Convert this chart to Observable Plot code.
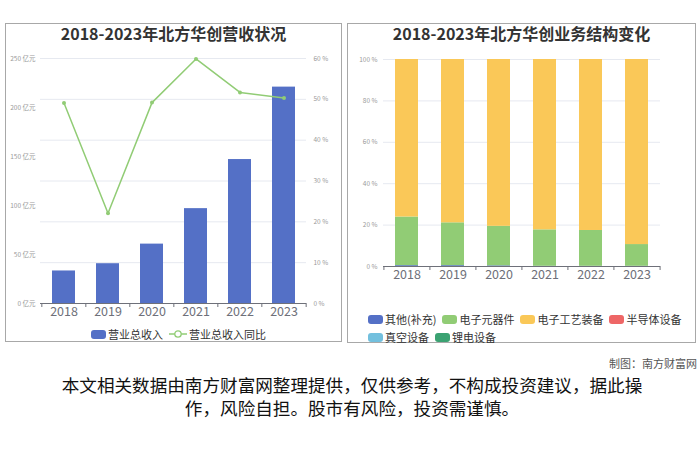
<!DOCTYPE html>
<html><head><meta charset="utf-8">
<script src="https://cdn.jsdelivr.net/npm/d3@7"></script>
<script src="https://cdn.jsdelivr.net/npm/@observablehq/plot@0.6"></script>
<style>
body{margin:0;background:#fff;font-family:"Noto Sans CJK SC","Noto Sans",sans-serif;}
#page{position:relative;width:700px;height:467px;overflow:hidden;background:#fff;}
.box{position:absolute;border:1px solid #a8a8a8;box-sizing:border-box;}
.abs{position:absolute;}
.title{position:absolute;text-align:center;font-weight:bold;font-size:16px;line-height:20px;color:#333;white-space:nowrap;}
.legend{position:absolute;display:flex;flex-wrap:wrap;align-items:center;font-size:11px;color:#333;row-gap:4px;column-gap:6px;}
.item{display:flex;align-items:center;gap:2px;height:14px;white-space:nowrap;}
.sw{width:15px;height:9px;border-radius:3px;display:inline-block;}
</style></head>
<body><div id="page">
<div class="box" style="left:5px;top:23px;width:337px;height:319px;"></div>
<div class="box" style="left:347px;top:23px;width:349px;height:320px;"></div>
<div id="left" class="abs" style="left:5px;top:23px;"></div>
<div id="right" class="abs" style="left:347px;top:23px;"></div>
<div class="title" style="left:5px;width:337px;top:23px;">2018-2023年北方华创营收状况</div>
<div class="title" style="left:347px;width:349px;top:23px;">2018-2023年北方华创业务结构变化</div>
<div id="legL" class="legend" style="left:91px;top:327px;"></div>
<div id="legR" class="legend" style="left:368px;top:312px;width:320px;"></div>
<div class="abs" style="right:3px;top:355px;font-size:11px;color:#555;">制图：南方财富网</div>
<div class="abs" style="left:0;width:704px;top:373px;text-align:center;font-size:17.6px;line-height:23px;color:#111;">本文相关数据由南方财富网整理提供，仅供参考，不构成投资建议，据此操<br>作，风险自担。股市有风险，投资需谨慎。</div>
</div>
<script>
const years = ["2018","2019","2020","2021","2022","2023"];
const revenue = [33.2, 40.6, 60.6, 96.8, 146.9, 220.8];
const revenueYoY = [49.1, 22.1, 49.2, 59.9, 51.7, 50.3];
const leftTicks = [0, 50, 100, 150, 200, 250];
const rightTicks = [0, 10, 20, 30, 40, 50, 60];
const shareTicks = [0, 20, 40, 60, 80, 100];

const segments = ["其他(补充)","电子元器件","电子工艺装备","半导体设备","真空设备","锂电设备"];
const segColors = ["#5470c6","#91cc75","#fac858","#ee6666","#73c0de","#3ba272"];
const shareOther      = [0.4, 0.4, 0.3, 0.1, 0.1, 0.1];
const shareComponents = [23.5, 20.7, 19.1, 17.6, 17.3, 10.5];
const shareEquipment  = [76.1, 78.9, 80.6, 82.3, 82.6, 89.4];
const shareSemi       = [0, 0, 0, 0, 0, 0];
const shareVacuum     = [0, 0, 0, 0, 0, 0];
const shareLithium    = [0, 0, 0, 0, 0, 0];

const axisGray = "#6e7079";
const tickGray = "#9a9a9a";
const gridColor = "#e6e9f0";

// boundary tick marks for a band x axis (ECharts style)
function bandTicks(cats, step, tickUnits) {
  return [
    Plot.ruleX(cats, {x: d => d, dx: -step / 2, y1: 0, y2: -tickUnits, stroke: axisGray}),
    Plot.ruleX(cats.slice(-1), {x: d => d, dx: step / 2, y1: 0, y2: -tickUnits, stroke: axisGray})
  ];
}

// Left chart: dual axis (亿元 on left, % on right; 60% aligned to 250 亿元)
const k = 250 / 60;
const LW = 337, LH = 319, LM = {t: 35, b: 39, l: 35, r: 36};
const revData = years.map((y, i) => ({year: y, revenue: revenue[i], yoy: revenueYoY[i]}));
const lStep = (LW - LM.l - LM.r) / years.length;
const lUnit = 250 / (LH - LM.t - LM.b);
const left = Plot.plot({
  width: LW, height: LH,
  marginTop: LM.t, marginBottom: LM.b, marginLeft: LM.l, marginRight: LM.r,
  style: {fontFamily: '"Noto Sans CJK SC","Noto Sans",sans-serif', background: "transparent"},
  x: {domain: years, paddingInner: 0.48, paddingOuter: 0.24, label: null},
  y: {domain: [0, 250], label: null},
  marks: [
    Plot.gridY(rightTicks.map(p => p * k), {stroke: gridColor, strokeOpacity: 1}),
    Plot.barY(revData, {x: "year", y: "revenue", fill: "#5470c6"}),
    Plot.line(revData, {x: "year", y: d => d.yoy * k, stroke: "#91cc75", strokeWidth: 1.5}),
    Plot.dot(revData, {x: "year", y: d => d.yoy * k, r: 2, fill: "#91cc75"}),
    Plot.axisY({ticks: leftTicks, tickFormat: d => d + " 亿元", tickSize: 0, tickPadding: 5, fontSize: 6.5, fill: tickGray, label: null}),
    Plot.axisY({anchor: "right", ticks: rightTicks.map(p => p * k), tickFormat: d => Math.round(d / k) + " %", tickSize: 0, tickPadding: 7, fontSize: 6.5, fill: tickGray, label: null}),
    Plot.axisX({tickSize: 0, tickPadding: 4, fontSize: 12.5, fill: axisGray, label: null}),
    ...bandTicks(years, lStep, 4 * lUnit),
    Plot.ruleY([0], {stroke: axisGray, strokeWidth: 1})
  ]
});
document.getElementById("left").appendChild(left);

// Right chart: stacked share bars
const RW = 349, RH = 320, RM = {t: 36, b: 77, l: 36, r: 36};
const rStep = (RW - RM.l - RM.r) / years.length;
const rUnit = 100 / (RH - RM.t - RM.b);
const shareSeries = [shareOther, shareComponents, shareEquipment, shareSemi, shareVacuum, shareLithium];
const shareData = [];
segments.forEach((s, j) => years.forEach((y, i) => shareData.push({year: y, segment: s, value: shareSeries[j][i]})));
const right = Plot.plot({
  width: RW, height: RH,
  marginTop: RM.t, marginBottom: RM.b, marginLeft: RM.l, marginRight: RM.r,
  style: {fontFamily: '"Noto Sans CJK SC","Noto Sans",sans-serif', background: "transparent"},
  x: {domain: years, paddingInner: 0.5, paddingOuter: 0.25, label: null},
  y: {domain: [0, 100], label: null},
  color: {domain: segments, range: segColors},
  marks: [
    Plot.gridY(shareTicks, {stroke: gridColor, strokeOpacity: 1}),
    Plot.barY(shareData, {x: "year", y: "value", fill: "segment", order: segments}),
    Plot.axisY({ticks: shareTicks, tickFormat: d => d + " %", tickSize: 0, tickPadding: 6, fontSize: 6.5, fill: tickGray, label: null}),
    Plot.axisX({tickSize: 0, tickPadding: 4, fontSize: 12.5, fill: axisGray, label: null}),
    ...bandTicks(years, rStep, 4 * rUnit),
    Plot.ruleY([0], {stroke: axisGray, strokeWidth: 1})
  ]
});
document.getElementById("right").appendChild(right);

// Legends
const legL = document.getElementById("legL");
legL.innerHTML =
  `<span class="item"><span class="sw" style="background:#5470c6"></span>营业总收入</span>` +
  `<span class="item"><svg width="18" height="10"><line x1="0" y1="5" x2="18" y2="5" stroke="#91cc75" stroke-width="1.5"/><circle cx="9" cy="5" r="3.2" fill="#fff" stroke="#91cc75" stroke-width="1.3"/></svg>营业总收入同比</span>`;
const legR = document.getElementById("legR");
legR.innerHTML = segments.map((s, i) =>
  `<span class="item"><span class="sw" style="background:${segColors[i]}"></span>${s}</span>`).join("");
</script>
</body></html>
